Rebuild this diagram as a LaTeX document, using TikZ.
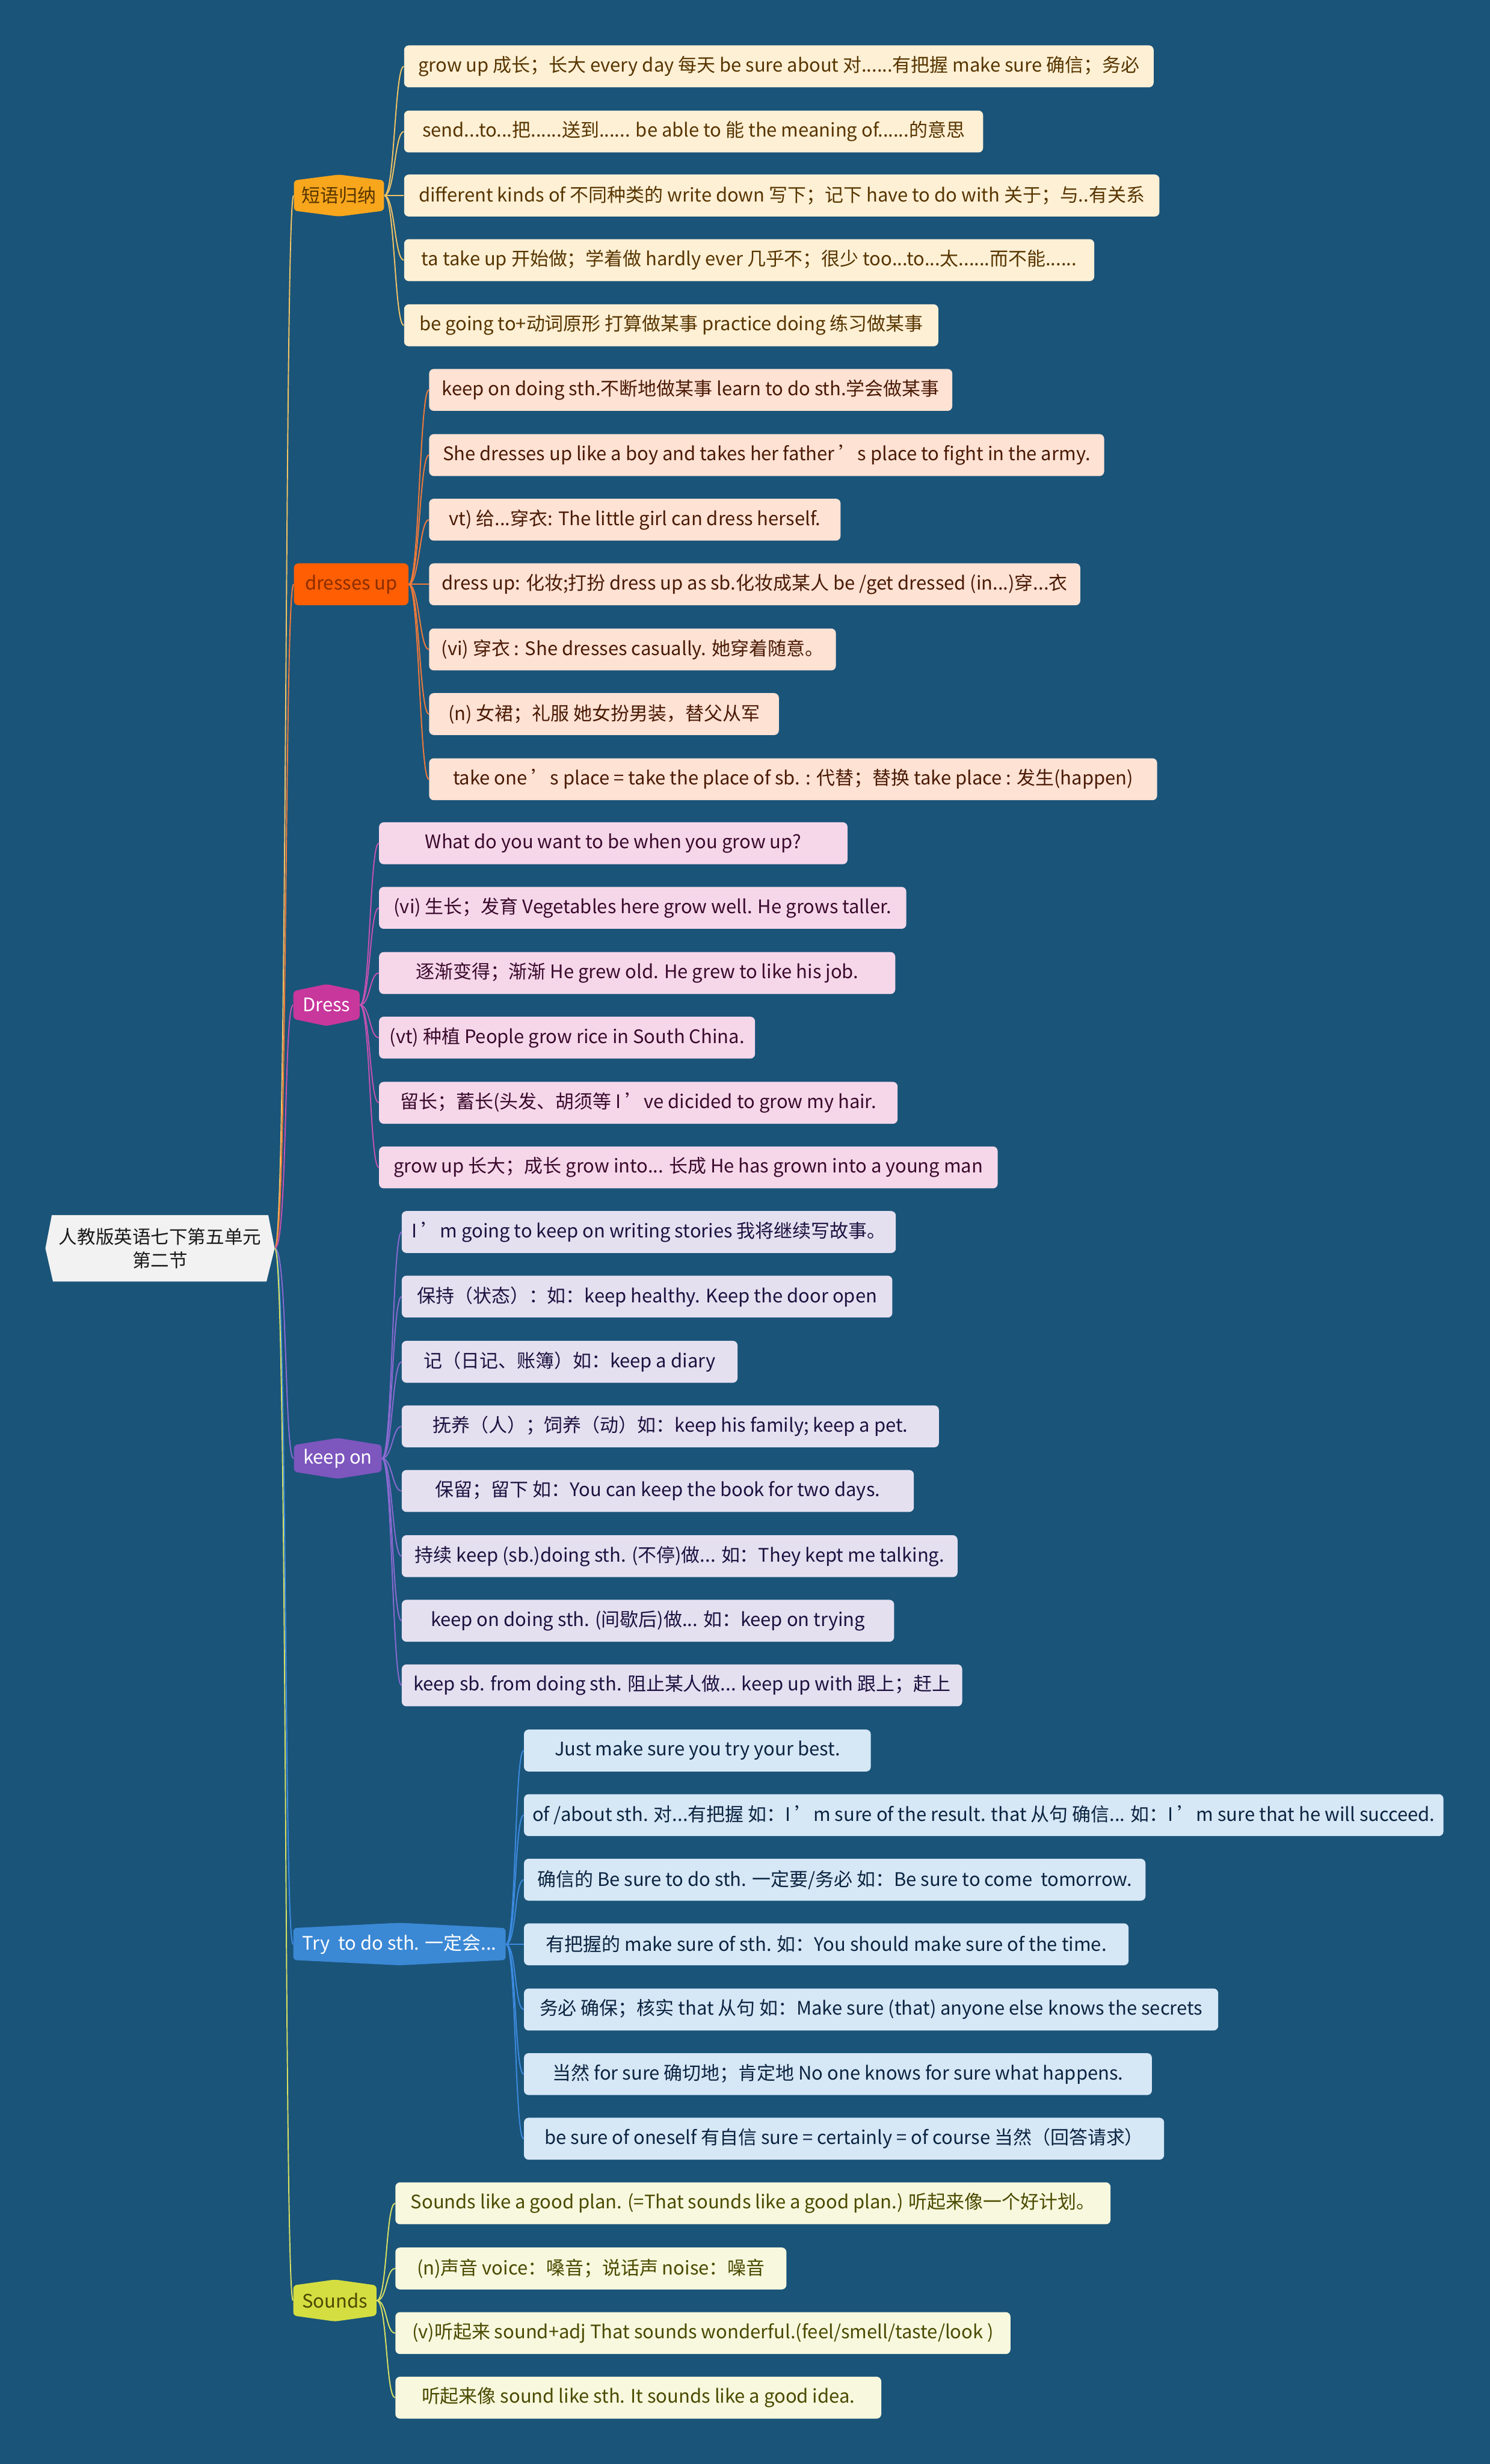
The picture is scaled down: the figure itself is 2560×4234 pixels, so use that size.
\documentclass[tikz,border=0pt]{standalone}
\usepackage{fontspec}
\setmainfont{Noto Sans CJK SC}
\definecolor{bg}{HTML}{1A5479}
\definecolor{rootfill}{HTML}{F2F2F2}
\definecolor{c1}{HTML}{F8A61C}\definecolor{c1line}{HTML}{F2C465}\definecolor{c1box}{HTML}{FEF0D5}\definecolor{c1txt}{HTML}{573500}
\definecolor{c2}{HTML}{FF5E03}\definecolor{c2line}{HTML}{F27A3A}\definecolor{c2box}{HTML}{FEE2D4}\definecolor{c2txt}{HTML}{4A1A05}\definecolor{c2head}{HTML}{8A2E00}
\definecolor{c3}{HTML}{C8379C}\definecolor{c3line}{HTML}{C652B2}\definecolor{c3box}{HTML}{F6D7EA}\definecolor{c3txt}{HTML}{3A0A2C}
\definecolor{c4}{HTML}{7D56BE}\definecolor{c4line}{HTML}{8A6AD2}\definecolor{c4box}{HTML}{E5E0F0}\definecolor{c4txt}{HTML}{1C1240}
\definecolor{c5}{HTML}{3B88D5}\definecolor{c5line}{HTML}{3D8BE0}\definecolor{c5box}{HTML}{D6E7F6}\definecolor{c5txt}{HTML}{0B2440}
\definecolor{c6}{HTML}{D4DE40}\definecolor{c6line}{HTML}{D8E062}\definecolor{c6box}{HTML}{F7F8DD}\definecolor{c6txt}{HTML}{4A4A00}
\newcommand\myhex[6]{\fill[#6, rounded corners=3pt] (#1,#3+#5) -- ({(#1+#2)/2},#3) -- (#2,#3+#5) -- (#2,#4-#5) -- ({(#1+#2)/2},#4) -- (#1,#4-#5) -- cycle;}
\tikzset{
  leaf/.style={rounded corners=4pt, minimum height=36pt, inner sep=0pt, anchor=west, align=center, font=\fontsize{16}{19}\selectfont},
  g1/.style={leaf, fill=c1box, text=c1txt},
  g2/.style={leaf, fill=c2box, text=c2txt},
  g3/.style={leaf, fill=c3box, text=c3txt},
  g4/.style={leaf, fill=c4box, text=c4txt},
  g5/.style={leaf, fill=c5box, text=c5txt},
  g6/.style={leaf, fill=c6box, text=c6txt},
  head/.style={inner sep=0pt, font=\fontsize{16}{18}\selectfont},
  conn/.style={line width=1pt}
}
\begin{document}
\begin{tikzpicture}[x=0.5pt,y=-0.5pt]
\fill[bg] (0,0) rectangle (2560,4234);
\useasboundingbox (0,0) rectangle (2560,4234);

% root
\fill[rootfill] (89,2088) -- (461,2088) -- (472,2145) -- (458,2202) -- (91,2202) -- (78,2145) -- cycle;
\node[inner sep=0pt, minimum width=197pt, minimum height=57pt, align=center, text=black!90, font=\fontsize{15.8}{20}\selectfont] (root) at (275,2145) {人教版英语七下第五单元\\第二节};

% level 1 shapes
\myhex{505}{660}{300}{372}{10}{c1}
\node[head, text=c1txt, minimum width=77.5pt, minimum height=36pt] (h1) at (582.5,336) {短语归纳};
\fill[c2, rounded corners=4pt] (505,968) rectangle (702,1040);
\node[head, text=c2head, minimum width=98.5pt, minimum height=36pt] (h2) at (603.5,1004) {dresses up};
\myhex{504}{618}{1691}{1763}{12}{c3}
\node[head, text=white, minimum width=57pt, minimum height=36pt] (h3) at (561,1727) {Dress};
\myhex{505}{656}{2471}{2541}{12}{c4}
\node[head, text=white, minimum width=75.5pt, minimum height=35pt] (h4) at (580.5,2506) {keep on};
\myhex{504}{869}{3304}{3377}{9}{c5}
\node[head, text=white, minimum width=182.5pt, minimum height=36pt] (h5) at (686.5,3341) {Try\ \ to do sth. 一定会...};
\myhex{504}{647}{3917}{3989}{10}{c6}
\node[head, text=c6txt, minimum width=71.5pt, minimum height=36pt] (h6) at (575.5,3953) {Sounds};

% group 1
\node[g1, minimum width=644pt] (a1) at (694,114) {grow up 成长；长大 every day 每天 be sure about 对......有把握 make sure 确信；务必};
\node[g1, minimum width=497.5pt] (a2) at (694,226) {send...to...把......送到...... be able to 能 the meaning of......的意思};
\node[g1, minimum width=649pt] (a3) at (694,336) {different kinds of 不同种类的 write down 写下；记下 have to do with 关于；与..有关系};
\node[g1, minimum width=593pt] (a4) at (694,447) {ta take up 开始做；学着做 hardly ever 几乎不；很少 too...to...太......而不能......};
\node[g1, minimum width=459pt] (a5) at (694,559) {be going to+动词原形 打算做某事 practice doing 练习做某事};

% group 2
\node[g2, minimum width=449.5pt] (b1) at (737,670) {keep on doing sth.不断地做某事 learn to do sth.学会做某事};
\node[g2, minimum width=580pt] (b2) at (737,782) {She dresses up like a boy and takes her father ’s place to fight in the army.};
\node[g2, minimum width=353.5pt] (b3) at (737,893) {vt) 给...穿衣: The little girl can dress herself.};
\node[g2, minimum width=559.5pt] (b4) at (737,1004) {dress up: 化妆;打扮 dress up as sb.化妆成某人 be /get dressed (in...)穿...衣};
\node[g2, minimum width=349.5pt] (b5) at (737,1116) {(vi) 穿衣 : She dresses casually. 她穿着随意。};
\node[g2, minimum width=300.5pt] (b6) at (737,1227) {(n) 女裙；礼服 她女扮男装，替父从军};
\node[g2, minimum width=625.5pt] (b7) at (737,1339) {take one ’s place = take the place of sb. : 代替；替换 take place : 发生(happen)};

% group 3
\node[g3, minimum width=402.5pt] (c1) at (651,1449) {What do you want to be when you grow up?};
\node[g3, minimum width=453pt] (c2) at (651,1560) {(vi) 生长；发育 Vegetables here grow well. He grows taller.};
\node[g3, minimum width=443.5pt] (c3) at (651,1672) {逐渐变得；渐渐 He grew old. He grew to like his job.};
\node[g3, minimum width=323pt] (c4) at (651,1783) {(vt) 种植 People grow rice in South China.};
\node[g3, minimum width=445.5pt] (c5) at (651,1895) {留长；蓄长(头发、胡须等 I ’ve dicided to grow my hair.};
\node[g3, minimum width=531.5pt] (c6) at (651,2006) {grow up 长大；成长 grow into... 长成 He has grown into a young man};

% group 4
\node[g4, minimum width=424.5pt] (d1) at (690,2117) {I ’m going to keep on writing stories 我将继续写故事。};
\node[g4, minimum width=421.5pt] (d2) at (690,2228) {保持（状态）：如：keep healthy. Keep the door open};
\node[g4, minimum width=288.5pt] (d3) at (690,2340) {记（日记、账簿）如：keep a diary};
\node[g4, minimum width=461.5pt] (d4) at (690,2451) {抚养（人）；饲养（动）如：keep his family; keep a pet.};
\node[g4, minimum width=440pt] (d5) at (690,2562) {保留；留下 如：You can keep the book for two days.};
\node[g4, minimum width=477.5pt] (d6) at (690,2674) {持续 keep (sb.)doing sth. (不停)做... 如：They kept me talking.};
\node[g4, minimum width=423pt] (d7) at (690,2785) {keep on doing sth. (间歇后)做... 如：keep on trying};
\node[g4, minimum width=481.5pt] (d8) at (690,2896) {keep sb. from doing sth. 阻止某人做... keep up with 跟上；赶上};

% group 5
\node[g5, minimum width=298pt] (e1) at (900,3008) {Just make sure you try your best.};
\node[g5, minimum width=790pt] (e2) at (900,3119) {of /about sth. 对...有把握 如：I ’m sure of the result. that 从句 确信... 如：I ’m sure that he will succeed.};
\node[g5, minimum width=534pt] (e3) at (900,3230) {确信的 Be sure to do sth. 一定要/务必 如：Be sure to come\ \ tomorrow.};
\node[g5, minimum width=519.5pt] (e4) at (900,3341) {有把握的 make sure of sth. 如：You should make sure of the time.};
\node[g5, minimum width=596.5pt] (e5) at (900,3453) {务必 确保；核实 that 从句 如：Make sure (that) anyone else knows the secrets};
\node[g5, minimum width=539.5pt] (e6) at (900,3564) {当然 for sure 确切地；肯定地 No one knows for sure what happens.};
\node[g5, minimum width=550pt] (e7) at (900,3675) {be sure of oneself 有自信 sure = certainly = of course 当然（回答请求）};

% group 6
\node[g6, minimum width=614.5pt] (f1) at (679,3786) {Sounds like a good plan. (=That sounds like a good plan.) 听起来像一个好计划。};
\node[g6, minimum width=336pt] (f2) at (679,3898) {(n)声音 voice：嗓音；说话声 noise：噪音};
\node[g6, minimum width=528.5pt] (f3) at (679,4009) {(v)听起来 sound+adj That sounds wonderful.(feel/smell/taste/look )};
\node[g6, minimum width=417.5pt] (f4) at (679,4120) {听起来像 sound like sth. It sounds like a good idea.};

% trunk connectors
\draw[conn, c1line] (root.east) .. controls +(22,0) and +(-16,0) .. (h1.west);
\draw[conn, c2line] (root.east) .. controls +(22,0) and +(-16,0) .. (h2.west);
\draw[conn, c3line] (root.east) .. controls +(22,0) and +(-16,0) .. (h3.west);
\draw[conn, c4line] (root.east) .. controls +(22,0) and +(-16,0) .. (h4.west);
\draw[conn, c5line] (root.east) .. controls +(22,0) and +(-16,0) .. (h5.west);
\draw[conn, c6line] (root.east) .. controls +(22,0) and +(-16,0) .. (h6.west);

% branch connectors
\foreach \t in {a1,a2,a3,a4,a5}{\draw[conn, c1line] (h1.east) .. controls +(18,0) and +(-16,0) .. (\t.west);}
\foreach \t in {b1,b2,b3,b4,b5,b6,b7}{\draw[conn, c2line] (h2.east) .. controls +(18,0) and +(-16,0) .. (\t.west);}
\foreach \t in {c1,c2,c3,c4,c5,c6}{\draw[conn, c3line] (h3.east) .. controls +(18,0) and +(-16,0) .. (\t.west);}
\foreach \t in {d1,d2,d3,d4,d5,d6,d7,d8}{\draw[conn, c4line] (h4.east) .. controls +(18,0) and +(-16,0) .. (\t.west);}
\foreach \t in {e1,e2,e3,e4,e5,e6,e7}{\draw[conn, c5line] (h5.east) .. controls +(18,0) and +(-16,0) .. (\t.west);}
\foreach \t in {f1,f2,f3,f4}{\draw[conn, c6line] (h6.east) .. controls +(18,0) and +(-16,0) .. (\t.west);}
\end{tikzpicture}
\end{document}
